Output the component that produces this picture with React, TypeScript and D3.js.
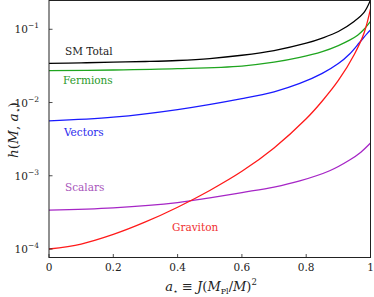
import React, { useEffect, useRef } from "react";
import * as d3 from "d3";

// spin parameter grid and h(M, a*) for each species
const spinSM = [0, 0.1, 0.2, 0.3, 0.4, 0.5, 0.6, 0.7, 0.8, 0.85, 0.9, 0.95, 0.98, 1.0];
const smTotal = [0.0343, 0.0348, 0.0355, 0.0363, 0.0375, 0.0398, 0.0442, 0.0513, 0.0646, 0.0759, 0.0933, 0.129, 0.17, 0.25];

const spinF = [0, 0.2, 0.4, 0.6, 0.7, 0.78, 0.85, 0.9, 0.935, 0.96, 0.98, 1.0];
const fermions = [0.0272, 0.0278, 0.029, 0.0315, 0.0355, 0.0412, 0.0495, 0.06, 0.071, 0.083, 0.1, 0.128];

const spinV = [0, 0.2, 0.4, 0.6, 0.7, 0.78, 0.85, 0.9, 0.935, 0.966, 0.99, 1.0];
const vectors = [0.0056, 0.0063, 0.008, 0.0113, 0.014, 0.0182, 0.025, 0.034, 0.046, 0.066, 0.088, 0.098];

const spinS = [0, 0.2, 0.4, 0.5, 0.6, 0.7, 0.78, 0.873, 0.935, 0.97, 1.0];
const scalars = [3.4e-4, 3.65e-4, 4.3e-4, 5.0e-4, 5.9e-4, 7.0e-4, 8.5e-4, 1.17e-3, 1.64e-3, 2.1e-3, 2.8e-3];

const spinG = [0, 0.1, 0.2, 0.3, 0.4, 0.5, 0.6, 0.7, 0.8, 0.85, 0.9, 0.95, 0.98, 1.0];
const graviton = [1.0e-4, 1.17e-4, 1.58e-4, 2.34e-4, 3.72e-4, 6.3e-4, 1.15e-3, 2.4e-3, 6.0e-3, 0.0105, 0.02, 0.0457, 0.089, 0.19];

const xTicks = [0, 0.2, 0.4, 0.6, 0.8, 1];
const yTickExps = [-1, -2, -3, -4];

const series = [
  { name: "SM Total", xs: spinSM, ys: smTotal, color: "#000000", text: "#222222", lx: 65, ly: 55 },
  { name: "Fermions", xs: spinF, ys: fermions, color: "#1fa51f", text: "#2a9a2a", lx: 63, ly: 84 },
  { name: "Vectors", xs: spinV, ys: vectors, color: "#1a1aff", text: "#2a2aee", lx: 64, ly: 136 },
  { name: "Scalars", xs: spinS, ys: scalars, color: "#a626c6", text: "#a855bb", lx: 65, ly: 191 },
  { name: "Graviton", xs: spinG, ys: graviton, color: "#ff1a1a", text: "#f03030", lx: 172, ly: 231 },
];

const App: React.FC = () => {
  const svgRef = useRef<SVGSVGElement | null>(null);

  useEffect(() => {
    if (!svgRef.current) return;
    const width = 374;
    const height = 297;
    const margin = { top: 0.5, right: 3.5, bottom: 39.5, left: 49 };
    const font = "'DejaVu Serif', serif";

    d3.select(svgRef.current).selectAll("*").remove();
    const svg = d3.select(svgRef.current).attr("width", width).attr("height", height);

    const innerWidth = width - margin.left - margin.right;
    const innerHeight = height - margin.top - margin.bottom;

    const g = svg.append("g").attr("transform", `translate(${margin.left},${margin.top})`);

    const x = d3.scaleLinear().domain([0, 1]).range([0, innerWidth]);
    const y = d3.scaleLog().domain([Math.pow(10, -4.116), Math.pow(10, -0.607)]).range([innerHeight, 0]);

    g.append("clipPath").attr("id", "plotclip")
      .append("rect").attr("width", innerWidth).attr("height", innerHeight);

    const line = d3.line<[number, number]>()
      .x(d => x(d[0]))
      .y(d => y(d[1]))
      .curve(d3.curveCatmullRom.alpha(0.5));

    const curves = g.append("g").attr("clip-path", "url(#plotclip)");
    series.forEach(s => {
      const pts: [number, number][] = s.xs.map((v, i) => [v, s.ys[i]]);
      curves.append("path")
        .attr("d", line(pts)!)
        .attr("fill", "none")
        .attr("stroke", s.color)
        .attr("stroke-width", 1.3);
    });

    // frame
    g.append("rect")
      .attr("width", innerWidth).attr("height", innerHeight)
      .attr("fill", "none").attr("stroke", "#222").attr("stroke-width", 1);

    // x ticks (inward)
    xTicks.forEach(t => {
      g.append("line")
        .attr("x1", x(t)).attr("x2", x(t))
        .attr("y1", innerHeight).attr("y2", innerHeight - 3.5)
        .attr("stroke", "#222").attr("stroke-width", 0.8);
      g.append("text")
        .attr("x", x(t)).attr("y", innerHeight + 13)
        .attr("text-anchor", "middle")
        .attr("font-family", font).attr("font-size", 10.5)
        .attr("fill", "#222")
        .text(d3.format("")(t));
    });

    // y ticks (inward)
    yTickExps.forEach(e => {
      const yy = y(Math.pow(10, e));
      g.append("line")
        .attr("x1", 0).attr("x2", 3.5)
        .attr("y1", yy).attr("y2", yy)
        .attr("stroke", "#222").attr("stroke-width", 0.8);
      const txt = g.append("text")
        .attr("x", -10).attr("y", yy + 4)
        .attr("text-anchor", "end")
        .attr("font-family", font).attr("font-size", 10.5)
        .attr("fill", "#222");
      txt.append("tspan").text("10");
      txt.append("tspan").attr("dy", -5).attr("font-size", 7.5).text(`\u2212${-e}`);
    });

    // series labels
    series.forEach(s => {
      svg.append("text")
        .attr("x", s.lx).attr("y", s.ly)
        .attr("font-family", font).attr("font-size", 10.5)
        .attr("fill", s.text)
        .text(s.name);
    });

    // x axis label
    const xl = svg.append("text")
      .attr("x", 211).attr("y", 291)
      .attr("text-anchor", "middle")
      .attr("font-family", font).attr("font-size", 13)
      .attr("fill", "#222");
    xl.append("tspan").attr("font-style", "italic").text("a");
    xl.append("tspan").attr("dy", 3).attr("font-size", 8).text("\u22c6");
    xl.append("tspan").attr("dy", -3).text(" \u2261 ");
    xl.append("tspan").attr("font-style", "italic").text("J");
    xl.append("tspan").text("(");
    xl.append("tspan").attr("font-style", "italic").text("M");
    xl.append("tspan").attr("dy", 3).attr("font-size", 8).text("Pl");
    xl.append("tspan").attr("dy", -3).text("/");
    xl.append("tspan").attr("font-style", "italic").text("M");
    xl.append("tspan").text(")");
    xl.append("tspan").attr("dy", -6).attr("font-size", 8.5).text("2");

    // y axis label
    const yl = svg.append("text")
      .attr("transform", "translate(18,130) rotate(-90)")
      .attr("text-anchor", "middle")
      .attr("font-family", font).attr("font-size", 13.5)
      .attr("fill", "#222");
    yl.append("tspan").attr("font-style", "italic").text("h");
    yl.append("tspan").text("(");
    yl.append("tspan").attr("font-style", "italic").text("M");
    yl.append("tspan").text(", ");
    yl.append("tspan").attr("font-style", "italic").text("a");
    yl.append("tspan").attr("dy", 3).attr("font-size", 8.5).text("\u22c6");
    yl.append("tspan").attr("dy", -3).text(")");
  }, []);

  return (
    <svg ref={svgRef} style={{ position: "absolute", left: 0, top: 0 }}></svg>
  );
};

export default App;
